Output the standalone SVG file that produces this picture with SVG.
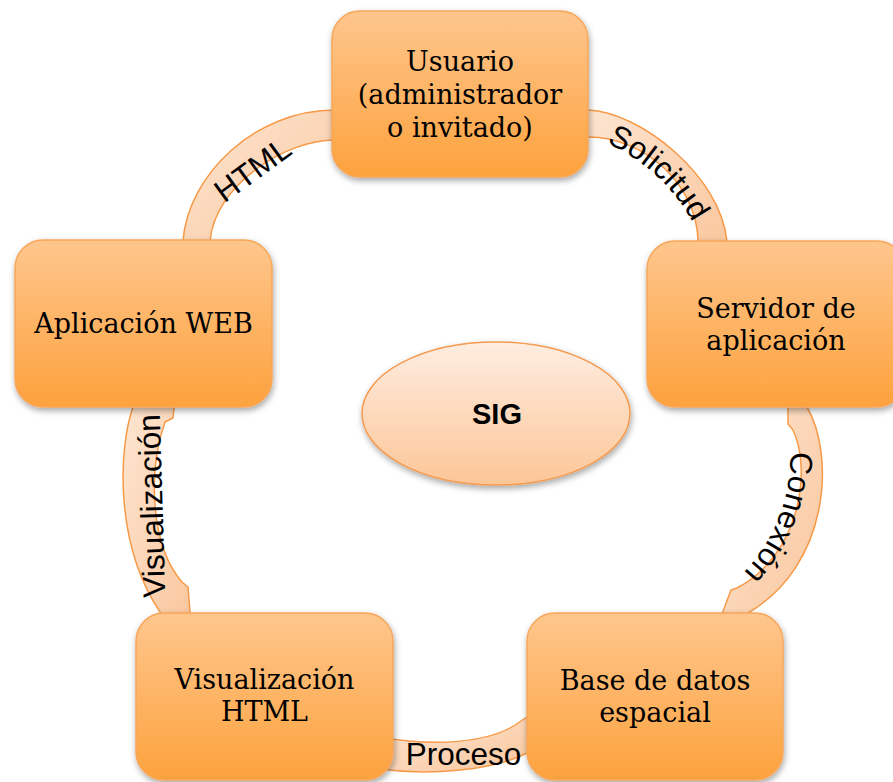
<svg xmlns="http://www.w3.org/2000/svg" width="893" height="782" viewBox="0 0 893 782">
  <defs>
    <linearGradient id="gNode" x1="0" y1="0" x2="0" y2="1">
      <stop offset="0" stop-color="#FEC68D"/>
      <stop offset="1" stop-color="#FDA23D"/>
    </linearGradient>
    <linearGradient id="gBand" x1="0" y1="0" x2="1" y2="1">
      <stop offset="0" stop-color="#FDE6D3"/>
      <stop offset="1" stop-color="#FAC69C"/>
    </linearGradient>
    <linearGradient id="gHub" x1="0" y1="0" x2="0" y2="1">
      <stop offset="0" stop-color="#FEEDE1"/>
      <stop offset="1" stop-color="#FCC697"/>
    </linearGradient>
    <filter id="shadow" x="-10%" y="-10%" width="120%" height="125%">
      <feDropShadow dx="1" dy="3" stdDeviation="3" flood-color="#000" flood-opacity="0.35"/>
    </filter>
    <!-- baselines for the curved labels -->
    <path id="arcSolicitud" d="M 533.9 127.9 A 180.5 180.5 0 0 1 714.4 308.4"/>
    <path id="arcConexion" d="M 741.1 337 A 168.2 168.2 0 0 1 622.2 624.1"/>
  </defs>
  <style>
    .band { fill: url(#gBand); stroke: #F79A48; stroke-width: 1.5; stroke-linejoin: round; }
    .box { fill: url(#gNode); stroke: #F8A75A; stroke-width: 1.5; filter: url(#shadow); }
    .hub { fill: url(#gHub); stroke: #F49B50; stroke-width: 1.5; filter: url(#shadow); }
    .lbl { font-family: "Liberation Sans", Arial, sans-serif; font-size: 31.5px; fill: #000; }
    .txt { font-family: "DejaVu Serif", "Liberation Serif", serif; font-size: 27px; fill: #000; text-anchor: middle; }
    .hubtxt { font-family: "Liberation Sans", Arial, sans-serif; font-size: 29px; font-weight: bold; fill: #000; text-anchor: middle; }
  </style>

  <!-- curved connector bands with their labels -->
  <g id="connectors">
    <path class="band" d="M 183 252 L 183 241 C 188 175, 255 110, 335 110 L 345 110 L 345 140 L 335 140 C 285 140, 215 185, 210 241 L 210 252 Z"/>
    <path class="band" d="M 580 110 L 588 110 C 640 112, 720 175, 727 241 L 727 252 L 698 252 L 698 241 C 697 185, 645 137, 588 137 L 580 137 Z"/>
    <path class="band" d="M 800 398 L 807 407 C 835 455, 830 565, 748 613 L 742 622 L 720 622 L 722 614 L 731 590 L 737 588 C 800 555, 812 470, 793 430 L 788 424 L 788 398 Z"/>
    <path class="band" d="M 535 750 L 527 753 C 495 770, 430 776, 380 769 L 380 737 C 430 746, 490 745, 521 721 L 527 717 L 535 717 Z"/>
    <path class="band" d="M 130 398 L 133 407 C 118 450, 115 545, 160 612 L 165 622 L 194 622 L 190 612 L 188 587 L 182 582 C 150 545, 148 470, 165 422 L 173 418 L 175 398 Z"/>

    <text class="lbl" text-anchor="middle" transform="translate(252.5,169.5) rotate(-36)" y="11">HTML</text>
    <text class="lbl" text-anchor="middle"><textPath href="#arcSolicitud" startOffset="134.2">Solicitud</textPath></text>
    <text class="lbl" text-anchor="middle"><textPath href="#arcConexion" startOffset="194.3">Conexión</textPath></text>
    <text class="lbl" text-anchor="middle" x="463.5" y="765">Proceso</text>
    <text class="lbl" text-anchor="middle" transform="translate(151.5,506) rotate(-91.7)" y="11">Visualización</text>
  </g>

  <g id="usuario">
    <rect class="box" x="332" y="11" width="256" height="166" rx="28"/>
    <text class="txt" x="460" y="71">Usuario</text>
    <text class="txt" x="460" y="104">(administrador</text>
    <text class="txt" x="460" y="137">o invitado)</text>
  </g>

  <g id="servidor">
    <rect class="box" x="647" y="241" width="258" height="166" rx="28"/>
    <text class="txt" x="776" y="318">Servidor de</text>
    <text class="txt" x="776" y="350">aplicación</text>
  </g>

  <g id="base-datos">
    <rect class="box" x="527" y="613" width="256" height="167" rx="28"/>
    <text class="txt" x="655" y="690">Base de datos</text>
    <text class="txt" x="655" y="722">espacial</text>
  </g>

  <g id="visualizacion-html">
    <rect class="box" x="136" y="613" width="257" height="167" rx="28"/>
    <text class="txt" x="264.5" y="689">Visualización</text>
    <text class="txt" x="264.5" y="721">HTML</text>
  </g>

  <g id="aplicacion-web">
    <rect class="box" x="15" y="240" width="257" height="167" rx="28"/>
    <text class="txt" x="143.5" y="333">Aplicación WEB</text>
  </g>

  <g id="sig">
    <ellipse class="hub" cx="496" cy="413.5" rx="134" ry="71.5"/>
    <text class="hubtxt" x="497" y="424">SIG</text>
  </g>
</svg>
